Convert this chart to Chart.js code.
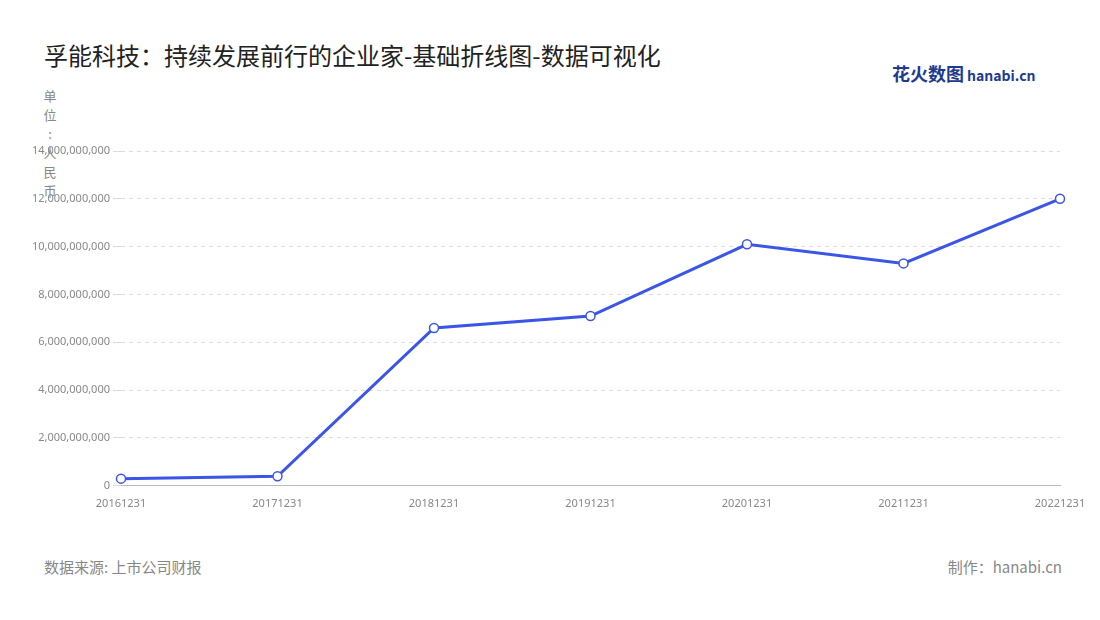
<!DOCTYPE html>
<html><head><meta charset="utf-8">
<script src="https://cdn.jsdelivr.net/npm/chart.js@4"></script>
<style>
body{margin:0;width:1100px;height:620px;background:#fff;font-family:"Noto Sans CJK SC","Noto Sans",sans-serif;position:relative;overflow:hidden}
#title{position:absolute;left:44px;top:37px;font-size:24px;color:#222}
#logo{position:absolute;left:892px;top:60px;font-size:18px;font-weight:bold;color:#1d3b8f}
#logo span{font-size:14px;color:#1d3b8f;margin-left:3px}
#unit{position:absolute;left:43px;top:86px;width:14px;font-size:13px;line-height:19px;color:#888;text-align:center}
#src{position:absolute;left:44px;top:556px;font-size:15px;color:#888}
#by{position:absolute;right:38px;top:556px;font-size:15px;color:#888}
#wrap{position:absolute;left:0;top:130px;width:1100px;height:383px}
</style></head><body>
<div id="title">孚能科技：持续发展前行的企业家-基础折线图-数据可视化</div>
<div id="logo">花火数图<span>hanabi.cn</span></div>
<div id="unit">单<br>位<br>:<br>人<br>民<br>币</div>
<div id="src">数据来源: 上市公司财报</div>
<div id="by">制作：hanabi.cn</div>
<div id="wrap"><canvas id="c"></canvas></div>
<script>
const categories=["20161231","20171231","20181231","20191231","20201231","20211231","20221231"];
const revenue=[300000000,400000000,6600000000,7100000000,10100000000,9300000000,12000000000];
new Chart(document.getElementById('c'),{type:'line',
data:{labels:categories,datasets:[{data:revenue,borderColor:'#3b55e6',borderWidth:3,tension:0,
pointRadius:4.5,pointBackgroundColor:'#fff',pointBorderColor:'#3b55e6',pointBorderWidth:1.5}]},
options:{responsive:true,maintainAspectRatio:false,animation:false,
layout:{padding:{left:0,right:40,top:21,bottom:0}},
plugins:{legend:{display:false},tooltip:{enabled:false}},
scales:{x:{offset:false,grid:{display:false},border:{color:'#bbb'},
ticks:{color:'#888',font:{size:11,family:'Noto Sans'},maxRotation:0,autoSkip:false}},
y:{min:0,max:14000000000,afterFit:s=>{s.width=121},ticks:{stepSize:2000000000,color:'#888',font:{size:11,family:'Noto Sans'},
callback:v=>v.toLocaleString('en-US')},
grid:{color:'#ddd',drawTicks:true},border:{display:false,dash:[4,4]}}}}});
</script></body></html>
